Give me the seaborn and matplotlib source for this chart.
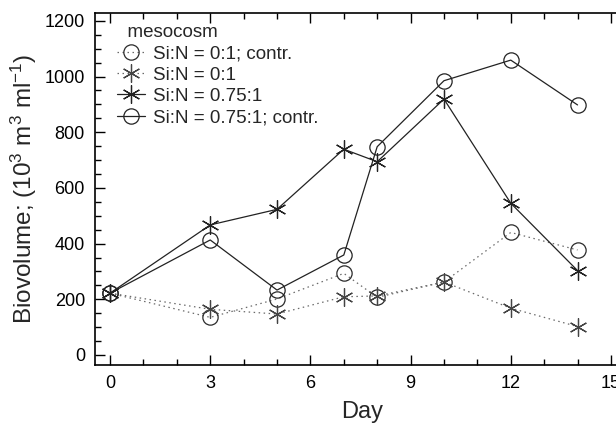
import matplotlib
matplotlib.use("Agg")
import matplotlib.pyplot as plt
import pandas as pd
import seaborn as sns
from matplotlib.ticker import MultipleLocator

days = [0, 3, 5, 7, 8, 10, 12, 14]
si0_contr = [222, 135, 201, 293, 207, 262, 440, 377]
si0 = [222, 164, 147, 209, 212, 262, 168, 102]
si075 = [222, 467, 523, 739, 694, 919, 545, 303]
si075_contr = [222, 413, 233, 359, 748, 985, 1059, 898]

series_labels = [
    "Si:N = 0:1; contr.",
    "Si:N = 0:1",
    "Si:N = 0.75:1",
    "Si:N = 0.75:1; contr.",
]
x_ticks = [0, 3, 6, 9, 12, 15]
y_ticks = [0, 200, 400, 600, 800, 1000, 1200]

sns.set_theme(style="ticks")
plt.rcParams["font.family"] = ["Liberation Sans", "DejaVu Sans"]
plt.rcParams["mathtext.fontset"] = "custom"
plt.rcParams["mathtext.rm"] = "Liberation Sans"
plt.rcParams["mathtext.it"] = "Liberation Sans:italic"
plt.rcParams["mathtext.bf"] = "Liberation Sans:bold"

frames = []
for label, vals in zip(series_labels, [si0_contr, si0, si075, si075_contr]):
    frames.append(pd.DataFrame({"day": days, "biovolume": vals, "series": label}))
df = pd.concat(frames, ignore_index=True)

palette = {
    series_labels[0]: "#6a6a6a",
    series_labels[1]: "#6a6a6a",
    series_labels[2]: "#222222",
    series_labels[3]: "#222222",
}
# seaborn won't mix filled and line-art markers, so asterisks are swapped in afterwards
star = (6, 2, 0)
final_markers = ["o", star, star, "o"]
marker_edges = ["#2a2a2a", "#444444", "#222222", "#222222"]
dashes = {
    series_labels[0]: (1.2, 2.8),
    series_labels[1]: (1.2, 2.8),
    series_labels[2]: "",
    series_labels[3]: "",
}

fig, ax = plt.subplots(figsize=(6.16, 4.24), dpi=100)
# right spine sits past the image edge in the original
ax.set_position([0.1537, 0.1392, 0.869, 0.830])

sns.lineplot(
    data=df, x="day", y="biovolume", hue="series", style="series",
    hue_order=series_labels, style_order=series_labels,
    palette=palette, markers={s: "o" for s in series_labels}, dashes=dashes,
    linewidth=0.9, markersize=11, legend=False, ax=ax,
)

for line, mk, ec in zip(ax.lines, final_markers, marker_edges):
    line.set_marker(mk)
    line.set_markerfacecolor("none")
    line.set_markeredgecolor(ec)
    line.set_markeredgewidth(0.9)
    if mk != "o":
        line.set_markersize(13)

leg = ax.legend(
    ax.lines[:4], series_labels, title="  mesocosm", loc="upper left",
    bbox_to_anchor=(0.02, 1.0), frameon=False, fontsize=13.5,
    title_fontsize=13.5, handlelength=1.5, handletextpad=0.45,
    labelspacing=0.22, borderaxespad=0.2,
)
leg._legend_box.align = "left"

ax.set_xlim(-0.46, 15.57)
ax.set_ylim(-36, 1228)
ax.set_xticks(x_ticks)
ax.set_yticks(y_ticks)
ax.xaxis.set_minor_locator(MultipleLocator(1))
ax.yaxis.set_minor_locator(MultipleLocator(50))
ax.tick_params(which="both", direction="in", top=True, right=False,
               colors="black", labelsize=13, width=1.0)
ax.tick_params(which="major", length=7, pad=7)
ax.tick_params(which="minor", length=4)
for side in ["left", "bottom", "top"]:
    ax.spines[side].set_linewidth(1.2)
    ax.spines[side].set_color("black")
ax.spines["right"].set_visible(False)

ax.set_xlabel("Day", fontsize=17, labelpad=7)
ax.set_ylabel(r"Biovolume; (10$^{3}$ m$^{3}$ ml$^{-1}$)", fontsize=17.5, labelpad=4)

fig.savefig("out.png", dpi=100)
